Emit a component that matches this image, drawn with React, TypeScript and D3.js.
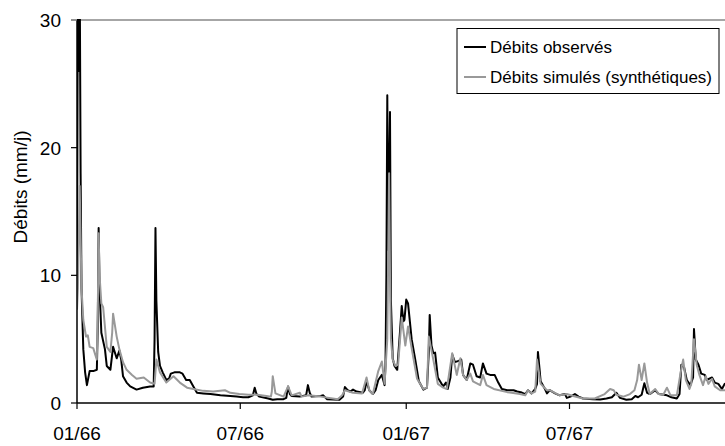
import React from "react";
import * as d3 from "d3";

const obsDays = [0,1,2,3,4,5,7,9,11,14,18,22,23,24,25,27,31,33,37,40,44,47,49,51,55,59,66,73,81,85,86,87,88,90,92,95,99,102,104,108,114,117,121,125,129,133,140,148,159,170,177,184,190,195,197,199,202,212,217,222,229,232,234,236,238,247,254,256,258,260,270,273,277,291,295,297,300,303,306,310,317,319,321,324,328,331,334,338,341,342,343,344,345,347,348,350,352,355,358,360,362,363,365,367,371,375,379,384,388,390,391,393,395,397,400,406,409,411,414,416,419,423,426,428,432,436,439,443,447,450,454,458,463,467,471,477,484,488,492,497,500,504,508,510,511,513,514,518,521,524,530,535,541,543,547,552,556,561,572,580,587,593,598,602,609,615,619,622,626,629,632,635,641,645,654,659,665,668,670,673,676,680,683,684,686,689,692,696,698,704,707,711,715,718,725];
const obsValues = [9,35,26,34,18,9,4.2,2.4,1.4,2.5,2.5,2.6,6,13.7,9,5.5,4.2,2.9,2.6,4.4,3.5,4.1,3.4,2.1,1.6,1.3,1.05,1.2,1.3,1.3,5,13.7,8,4,2.9,2.4,1.8,1.9,2.3,2.4,2.4,2.3,1.8,1.8,1.3,0.8,0.75,0.7,0.6,0.55,0.5,0.45,0.45,0.6,1.2,0.7,0.5,0.35,0.25,0.3,0.3,0.4,1.3,0.7,0.55,0.5,0.6,1.4,0.8,0.5,0.55,0.6,0.3,0.25,0.5,1.25,1.0,0.9,1.05,0.9,0.8,1.0,1.7,1.0,0.7,1.0,1.8,2.2,1.4,3,10,24.1,12,22.8,8,3.5,2.9,2.6,5.5,7.6,6.4,6.5,8.1,7.8,5.0,3.4,1.7,1.05,1.2,4,6.9,4.5,3.9,3.95,2.0,1.3,1.6,1.1,2,3.8,3.2,3.3,3.4,2.2,1.8,3.1,3.0,2.1,2.0,3.1,2.3,2.2,2.2,1.6,1.1,1.0,1.0,0.9,0.85,0.7,1.0,0.75,1.1,1.5,4.0,2.5,1.7,1.2,0.75,1.0,0.75,0.6,0.7,0.4,0.5,0.7,0.5,0.35,0.3,0.28,0.35,0.45,0.8,0.4,0.25,0.3,0.55,0.45,0.65,1.55,0.8,0.7,1.0,0.7,0.6,0.45,0.35,0.7,3.0,2.8,1.8,1.4,2.0,5.8,3.4,3.0,2.3,2.2,1.8,2.0,1.6,1.5,1.1,1.5,1.2];

const simDays = [0,1,3,5,7,10,12,14,18,22,23,24,25,27,29,33,37,39,40,44,47,51,55,61,66,74,81,86,88,92,99,107,114,122,129,140,151,164,170,180,190,200,210,215,216,217,220,229,234,238,247,249,257,270,289,294,297,306,316,321,324,328,334,338,341,344,346,347,348,350,353,356,360,364,367,371,377,384,388,390,395,400,406,410,416,421,425,428,432,436,439,447,450,454,462,477,491,497,500,504,508,510,514,521,524,535,543,550,561,574,585,591,595,598,606,613,618,621,623,626,629,632,635,641,645,650,654,658,665,669,672,675,679,681,684,687,690,694,697,700,704,707,713,718,725];
const simValues = [7.3,9,17,9,6.5,5.2,5.3,4.4,4.3,3.4,7,13.3,10,7.8,7.5,4.4,4.0,5.5,7.0,5.2,4.2,3.2,2.6,2.2,1.9,2.0,1.6,1.5,3.4,2.4,1.6,2.1,1.6,1.2,1.1,0.95,0.9,1.0,0.8,0.7,0.65,0.65,0.55,0.5,0.9,2.1,0.75,0.5,1.3,0.6,0.8,0.5,0.6,0.5,0.3,0.6,1.0,0.8,0.75,2.0,1.0,0.7,2.5,3.25,1.5,5,18,10,5,3.4,2.9,3.0,6.7,4.5,6.0,4.3,1.9,1.1,1.2,5.2,3.4,1.5,1.2,1.1,3.9,2.2,3.5,2.2,1.8,2.3,1.7,1.4,2.2,1.4,1.1,0.85,0.7,0.6,1.0,0.75,0.9,3.4,1.5,1.0,1.0,0.6,0.7,0.55,0.35,0.35,0.7,1.1,1.0,0.65,0.5,0.7,1.0,1.8,3.0,1.8,3.1,1.6,0.7,1.1,0.7,0.65,1.2,0.6,0.6,2.3,3.4,1.8,1.1,1.5,5.0,3.0,2.2,1.4,2.1,1.5,1.9,1.3,1.0,1.0,0.9];

const xTickDates = ["1966-01-01", "1966-07-01", "1967-01-01", "1967-07-01"];
const xTickLabels = ["01/66", "07/66", "01/67", "07/67"];
const yTicks = [0, 10, 20, 30];
const seriesNames = ["Débits observés", "Débits simulés (synthétiques)"];
const seriesColors = ["#000000", "#999999"];
const yTitle = "Débits (mm/j)";

const W = 725, H = 446;
const left = 77, right = 725, top = 20, bottom = 403;
const FONT = "'Liberation Sans', Arial, sans-serif";

const parse = (s: string) => {
  const [y, m, d] = s.split("-").map(Number);
  return new Date(y, m - 1, d);
};
const START = parse("1966-01-01");

export default function App() {
  const x = d3.scaleTime().domain([START, parse("1967-07-01")]).range([left, 569.5]);
  const y = d3.scaleLinear().domain([0, 30]).range([bottom, top]);
  const toPts = (days: number[], vals: number[]) =>
    days.map((d, i) => ({ date: d3.timeDay.offset(START, d), v: vals[i] }));
  const line = d3.line<{ date: Date; v: number }>().x((p) => x(p.date)).y((p) => y(p.v));
  const obs = toPts(obsDays, obsValues);
  const sim = toPts(simDays, simValues);

  return (
    <svg width={W} height={H} style={{ position: "fixed", left: 0, top: 0, background: "#fff" }} fontFamily={FONT}>
      <defs>
        <clipPath id="plot">
          <rect x={left} y={top - 1} width={right - left} height={bottom - top + 1} />
        </clipPath>
      </defs>
      <rect x={0} y={0} width={W} height={H} fill="#fff" />
      <line x1={left - 6} x2={right} y1={top} y2={top} stroke="#888" strokeWidth={1.5} />
      <g clipPath="url(#plot)">
        <path d={line(obs) || ""} fill="none" stroke={seriesColors[0]} strokeWidth={2} strokeLinejoin="round" />
        <path d={line(sim) || ""} fill="none" stroke={seriesColors[1]} strokeWidth={2} strokeLinejoin="round" />
      </g>
      <line x1={left} x2={left} y1={top} y2={bottom} stroke="#000" strokeWidth={1.5} />
      <line x1={left} x2={right} y1={bottom} y2={bottom} stroke="#000" strokeWidth={1.5} />
      {yTicks.map((t) => (
        <g key={t}>
          <line x1={left - 6} x2={left} y1={y(t)} y2={y(t)} stroke={t === 30 ? "#888" : "#000"} strokeWidth={1.2} />
          <text x={61} y={y(t)} dy="0.36em" textAnchor="end" fontSize={19} fill="#000">{t}</text>
        </g>
      ))}
      {xTickDates.map((s, i) => {
        const xx = x(parse(s));
        return (
          <g key={s}>
            <line x1={xx} x2={xx} y1={bottom} y2={bottom + 6} stroke="#000" strokeWidth={1.2} />
            <text x={xx} y={440} textAnchor="middle" fontSize={19} fill="#000">{xTickLabels[i]}</text>
          </g>
        );
      })}
      <text transform={`translate(27,187) rotate(-90)`} textAnchor="middle" fontSize={19} fill="#000">{yTitle}</text>
      <rect x={457} y={28.5} width={262} height={65} fill="#fff" stroke="#000" strokeWidth={1} />
      {seriesNames.map((n, i) => (
        <g key={n}>
          <line x1={464} x2={486} y1={47 + i * 30} y2={47 + i * 30} stroke={seriesColors[i]} strokeWidth={2} />
          <text x={490} y={53 + i * 30} fontSize={17} fill="#000">{n}</text>
        </g>
      ))}
    </svg>
  );
}
